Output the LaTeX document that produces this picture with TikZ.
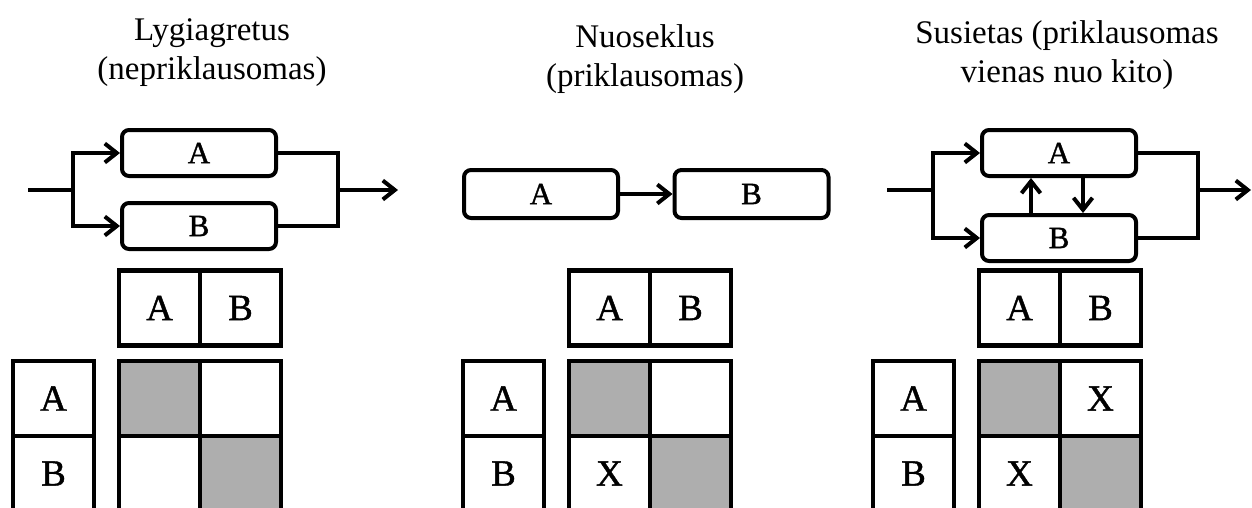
\documentclass[tikz,border=0pt]{standalone}
\usepackage{fontspec}
\setmainfont{Liberation Serif}
\newfontfamily\letterfont[FakeBold=1.2]{Liberation Serif}
\usetikzlibrary{arrows.meta}
\definecolor{cellgray}{RGB}{174,174,174}
\newcommand{\boxletters}{\letterfont\fontsize{31}{33}\selectfont}
\newcommand{\cellletters}{\letterfont\fontsize{37}{39}\selectfont}
\tikzset{
  title/.style={align=center, font=\fontsize{33}{39}\selectfont, inner sep=0pt},
  proc/.style={draw, line width=4pt, rounded corners=7pt, minimum width=154pt,
    minimum height=46pt, inner sep=0pt, font=\boxletters},
  wire/.style={line width=4pt},
  flow/.style={line width=4pt, -{Straight Barb[length=12pt,width=19pt,line width=4pt]}},
  cell/.style={draw, line width=4.5pt, minimum width=81pt, minimum height=75pt,
    inner sep=0pt, font=\cellletters},
  shaded/.style={cell, fill=cellgray},
}
\begin{document}
\begin{tikzpicture}[x=1pt, y=-1pt]
\useasboundingbox (0,0) rectangle (1252,507);
\clip (0,0) rectangle (1252,507);

% ---------- titles ----------
\node[title] (t1) at (212,53) {Lygiagretus\\(nepriklausomas)};
\node[title] (t2) at (645,59) {Nuoseklus\\(priklausomas)};
\node[title] (t3) at (1067,55) {Susietas (priklausomas\\vienas nuo kito)};

% ---------- parallel flow ----------
\node[proc] (A1) at (199,153) {A};
\node[proc] (B1) at (199,226) {B};
\coordinate (in1) at (28,190);
\coordinate (s1) at (73,190);
\coordinate (m1) at (338,190);
\coordinate (out1) at (398,190);
\draw[wire] (in1) -- (s1);
\draw[flow] (s1) |- (A1.west);
\draw[flow] (s1) |- (B1.west);
\draw[wire] (A1.east) -| (m1) |- (B1.east);
\draw[flow] (m1) -- (out1);

% ---------- sequential flow ----------
\node[proc, minimum height=48pt] (A2) at (541,194) {A};
\node[proc, minimum height=48pt] (B2) at (751.5,194) {B};
\draw[flow] (A2.east) -- (B2.west);

% ---------- coupled flow ----------
\node[proc] (A3) at (1059,153) {A};
\node[proc] (B3) at (1059,238) {B};
\coordinate (in3) at (887,190);
\coordinate (s3) at (933,190);
\coordinate (m3) at (1198,190);
\coordinate (out3) at (1251,190);
\draw[wire] (in3) -- (s3);
\draw[flow] (s3) |- (A3.west);
\draw[flow] (s3) |- (B3.west);
\draw[wire] (A3.east) -| (m3) |- (B3.east);
\draw[flow] (m3) -- (out3);
\draw[flow] (1031,0 |- B3.north) -- (1031,0 |- A3.south);
\draw[flow] (1083,0 |- A3.south) -- (1083,0 |- B3.north);

% ---------- dependency tables ----------
% parallel
\node[cell] (h1a) at (159.5,308) {A};
\node[cell] (h1b) at (240.5,308) {B};
\node[cell] (r1a) at (53.5,398.5) {A};
\node[cell] (r1b) at (53.5,473.5) {B};
\node[shaded] (c1aa) at (159.5,398.5) {};
\node[cell] (c1ab) at (240.5,398.5) {};
\node[cell] (c1ba) at (159.5,473.5) {};
\node[shaded] (c1bb) at (240.5,473.5) {};

% sequential
\node[cell] (h2a) at (609.5,308) {A};
\node[cell] (h2b) at (690.5,308) {B};
\node[cell] (r2a) at (503.5,398.5) {A};
\node[cell] (r2b) at (503.5,473.5) {B};
\node[shaded] (c2aa) at (609.5,398.5) {};
\node[cell] (c2ab) at (690.5,398.5) {};
\node[cell] (c2ba) at (609.5,473.5) {X};
\node[shaded] (c2bb) at (690.5,473.5) {};

% coupled
\node[cell] (h3a) at (1019.5,308) {A};
\node[cell] (h3b) at (1100.5,308) {B};
\node[cell] (r3a) at (913.5,398.5) {A};
\node[cell] (r3b) at (913.5,473.5) {B};
\node[shaded] (c3aa) at (1019.5,398.5) {};
\node[cell] (c3ab) at (1100.5,398.5) {X};
\node[cell] (c3ba) at (1019.5,473.5) {X};
\node[shaded] (c3bb) at (1100.5,473.5) {};
\end{tikzpicture}
\end{document}
